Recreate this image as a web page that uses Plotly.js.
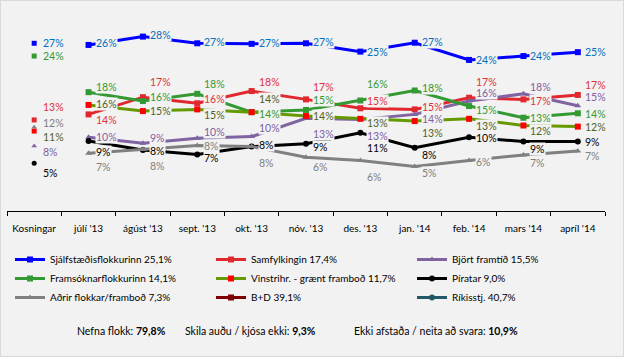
<!DOCTYPE html>
<html><head><meta charset="utf-8">
<script src="https://cdn.plot.ly/plotly-3.0.1.min.js"></script>
<style>body{margin:0;background:#f2f2f2}#c{width:624px;height:357px}#b{position:absolute;left:0;top:0;width:622px;height:355px;border:1px solid #d9d9d9;pointer-events:none}</style>
</head><body><div id="c"></div><div id="b"></div>
<script>
const categories = ["Kosningar", "júlí '13", "ágúst '13", "sept. '13", "okt. '13", "nóv. '13", "des. '13", "jan. '14", "feb. '14", "mars '14", "apríl '14"];
const sjalfstaedis = [26.7, 26.4, 27.9, 26.7, 26.6, 26.7, 25.2, 26.8, 23.7, 24.4, 25.1];
const samfylkingin = [12.9, 13.9, 17.0, 15.9, 18.1, 16.6, 15.0, 14.8, 16.9, 16.6, 17.4];
const bjort = [8.2, 9.8, 8.7, 9.6, 9.9, 13.2, 13.0, 13.9, 16.3, 17.6, 15.46];
const framsokn = [24.4, 17.9, 16.3, 17.6, 14.3, 14.7, 16.4, 18.2, 15.4, 13.3, 14.1];
const vinstrigraen = [10.9, 15.6, 14.5, 14.8, 14.3, 13.6, 13.1, 12.7, 13.1, 11.9, 11.7];
const piratar = [5.1, 9.1, 7.5, 6.7, 8.1, 8.6, 10.6, 7.9, 9.8, 9.0, 9.0];
const adrir = [11.6, 6.9, 7.6, 8.3, 8.1, 6.2, 5.6, 4.5, 5.6, 6.6, 7.3];
const bd = [null, null, null, null, null, null, null, null, null, null, 39.1];
const rikisstj = [null, null, null, null, null, null, null, null, null, null, 40.7];
const names = ["Sjálfstæðisflokkurinn 25,1%", "Samfylkingin 17,4%", "Björt framtíð 15,5%", "Framsóknarflokkurinn 14,1%", "Vinstrihr. - grænt framboð 11,7%", "Píratar 9,0%", "Aðrir flokkar/framboð 7,3%", "B+D 39,1%", "Ríkisstj. 40,7%"];
const footer = ['Nefna flokk: <b>79,8%</b>', 'Skila auðu / kjósa ekki: <b>9,3%</b>', 'Ekki afstaða / neita að svara: <b>10,9%</b>'];

const FONT = "Lato, 'Liberation Sans', Arial, sans-serif";
const H = 357, L = 7, T = 10, B = 146, PW = 598, PH = 201;
const px = x => (x - L) / PW;
const py = y => (H - B - y) / PH;

const series = [
  {v: sjalfstaedis, name: names[0], lc: '#0000ff', mc: '#0000ff', sym: 'square', tc: '#0070c0', lg: 'legend', rank: 1,
   dy: [0, -2, -2, -1, -1, -1, 0, -1, 0, 0, 0]},
  {v: samfylkingin, name: names[1], lc: '#e0282e', mc: '#e0282e', sym: 'square', tc: '#e0303a', lg: 'legend2', rank: 1,
   dy: [-13, 6, -15, -4, -9, -12, -7, -2, -16, 2, -10]},
  {v: bjort, name: names[2], lc: '#8064a2', mc: '#8064a2', sym: 'triangle-up', tc: '#7f5fa0', lg: 'legend3', rank: 1,
   dy: [6, 0, -5, -6, -9, 16, 17, 5, -8, -7, -9]},
  {v: framsokn, name: names[3], lc: '#339933', mc: '#339933', sym: 'square', tc: '#339933', lg: 'legend', rank: 2,
   dy: [0, -5, -4, -10, 2, -10, -17, -3, 4, 0, 1]},
  {v: vinstrigraen, name: names[4], lc: '#669900', mc: '#ff0000', sym: 'square', tc: '#4f6228', lg: 'legend2', rank: 2,
   dy: [6, -1, 0, 6, -13, 0, 4, 12, 7, 5, 0]},
  {v: piratar, name: names[5], lc: '#000000', mc: '#000000', sym: 'circle', tc: '#000000', lg: 'legend3', rank: 2,
   dy: [10, 11, 1, 4, -2, 3, 15, 7, 1, 7, 0]},
  {v: adrir, name: names[6], lc: '#808080', mc: '#808080', sym: 'triangle-up', tc: '#808080', lg: 'legend', rank: 3,
   dy: [-4, 14, 17, 0, 16, 10, 16, 6, 1, 8, 5]},
  {v: bd, name: names[7], lc: '#7f0000', mc: '#7f0000', sym: 'square', tc: '#7f0000', lg: 'legend2', rank: 3, dy: null},
  {v: rikisstj, name: names[8], lc: '#215968', mc: '#215968', sym: 'circle', tc: '#215968', lg: 'legend3', rank: 3, dy: null}
];

const traces = [];
const annotations = [];
series.forEach(s => {
  traces.push({
    x: categories.slice(1), y: s.v.slice(1), type: 'scatter', mode: 'lines+markers',
    name: s.name, legend: s.lg, legendrank: s.rank,
    line: {color: s.lc, width: 3}, marker: {color: s.mc, symbol: s.sym, size: 6},
    hoverinfo: 'skip'
  });
  if (s.v[0] !== null) {
    traces.push({
      x: [categories[0]], y: [s.v[0]], type: 'scatter', mode: 'markers', showlegend: false,
      marker: {color: s.mc, symbol: s.sym, size: 5}, hoverinfo: 'skip'
    });
  }
  if (s.dy) {
    s.v.forEach((val, i) => {
      if (val === null) return;
      annotations.push({
        x: categories[i], y: val, xref: 'x', yref: 'y', text: Math.round(val) + '%',
        showarrow: false, xanchor: 'left', yanchor: 'middle', xshift: i === 0 ? 8 : 6, yshift: -s.dy[i],
        font: {family: FONT, size: 10.5, color: s.tc}, bgcolor: '#f2f2f2', borderpad: 0
      });
    });
  }
});

const footerX = [75, 183, 352];
footer.forEach((t, i) => annotations.push({
  xref: 'paper', yref: 'paper', x: px(footerX[i]), y: py(331), xanchor: 'left', yanchor: 'middle', showarrow: false,
  text: t, font: {family: FONT, size: 10.5, color: '#000'}
}));

const legBase = {xanchor: 'left', yanchor: 'top', y: py(245), bgcolor: 'rgba(0,0,0,0)',
  font: {family: FONT, size: 10, color: '#000'}, traceorder: 'normal'};

const layout = {
  width: 624, height: 357,
  margin: {l: L, r: 624 - L - PW, t: T, b: B},
  paper_bgcolor: '#f2f2f2', plot_bgcolor: '#f2f2f2',
  font: {family: FONT},
  showlegend: true,
  xaxis: {type: 'category', categoryorder: 'array', categoryarray: categories, range: [-0.5, 10.5], tickson: 'boundaries',
    ticks: 'outside', ticklen: 4, tickcolor: '#000', showline: true, linecolor: '#000', linewidth: 1, tickangle: 0, ticklabelstandoff: 8,
    showgrid: false, zeroline: false, tickfont: {family: FONT, size: 10, color: '#000'}, fixedrange: true},
  yaxis: {range: [-3.49, 32.69], visible: false, showgrid: false, zeroline: false, fixedrange: true},
  legend: Object.assign({}, legBase, {x: px(10)}),
  legend2: Object.assign({}, legBase, {x: px(211)}),
  legend3: Object.assign({}, legBase, {x: px(412)}),
  annotations: annotations
};

Plotly.newPlot('c', traces, layout, {staticPlot: true, displayModeBar: false});
</script></body></html>
